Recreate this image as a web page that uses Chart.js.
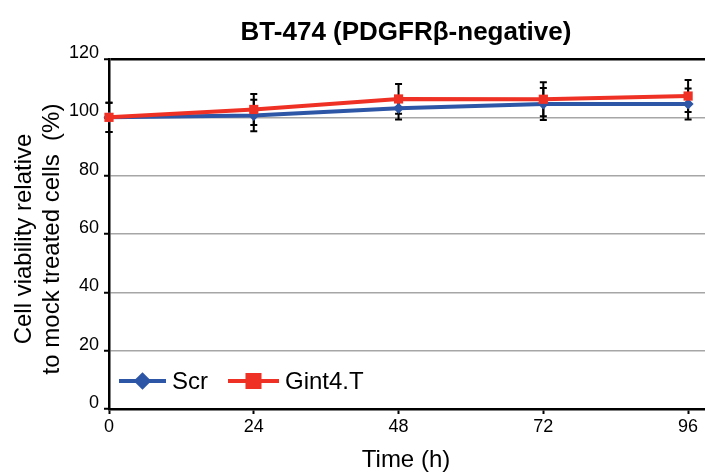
<!DOCTYPE html>
<html>
<head>
<meta charset="utf-8">
<script src="https://cdn.jsdelivr.net/npm/chart.js@4"></script>
<style>
  body { margin: 0; background: #fff; }
  #wrap { width: 705px; height: 473px; position: relative; }
</style>
</head>
<body>
<div id="wrap"><canvas id="mychart"></canvas></div>
<script>
// -------- data --------
const hours = [0, 24, 48, 72, 96];
const scrMean = [100, 100.6, 103.1, 104.6, 104.6];
const scrErr = [5.0, 5.4, 3.8, 5.5, 5.3];
const gintMean = [100, 102.7, 106.3, 106.2, 107.3];
const gintErr = [5.0, 5.3, 5.1, 5.8, 5.5];

const FONT = '"Liberation Sans", Arial, sans-serif';
const BLUE = '#2E56A6';
const RED = '#EE3124';

// error bars go under the lines and markers
const errorBars = {
  id: 'errorBars',
  beforeDatasetsDraw(chart) {
    const ctx = chart.ctx;
    const y = chart.scales.y;
    ctx.save();
    ctx.strokeStyle = '#000';
    ctx.lineWidth = 2;
    chart.data.datasets.forEach((ds, i) => {
      const meta = chart.getDatasetMeta(i);
      meta.data.forEach((pt, j) => {
        const v = ds.data[j].y, e = ds.errors[j];
        const top = y.getPixelForValue(v + e);
        const bot = y.getPixelForValue(v - e);
        ctx.beginPath();
        ctx.moveTo(pt.x, top); ctx.lineTo(pt.x, bot);
        ctx.moveTo(pt.x - 3.5, top); ctx.lineTo(pt.x + 3.5, top);
        ctx.moveTo(pt.x - 3.5, bot); ctx.lineTo(pt.x + 3.5, bot);
        ctx.stroke();
      });
    });
    ctx.restore();
  }
};

// titles + in-plot legend
const extras = {
  id: 'extras',
  afterDraw(chart) {
    const ctx = chart.ctx;
    ctx.save();
    ctx.fillStyle = '#000';
    ctx.textAlign = 'center';
    ctx.textBaseline = 'alphabetic';
    ctx.font = 'bold 26px ' + FONT;
    ctx.fillText('BT-474 (PDGFRβ-negative)', 406, 40);

    ctx.font = '24px ' + FONT;
    ctx.textBaseline = 'middle';
    ctx.fillText('Time (h)', 406, 460);

    ctx.save();
    ctx.translate(24, 239);
    ctx.rotate(-Math.PI / 2);
    ctx.fillText('Cell viability relative', 0, 0);
    ctx.fillText('to mock treated cells  (%)', 0, 28);
    ctx.restore();

    // legend
    const items = [
      {label: 'Scr', color: BLUE, style: 'rectRot', r: 6, x0: 119, x1: 166},
      {label: 'Gint4.T', color: RED, style: 'rect', r: 8.5, x0: 228, x1: 279}
    ];
    const ly = 381;
    ctx.textAlign = 'left';
    items.forEach(it => {
      ctx.strokeStyle = it.color;
      ctx.lineWidth = 4;
      ctx.beginPath();
      ctx.moveTo(it.x0, ly); ctx.lineTo(it.x1, ly);
      ctx.stroke();
      Chart.helpers.drawPoint(ctx, {pointStyle: it.style, radius: it.r, borderWidth: 1, rotation: 0},
        (it.x0 + it.x1) / 2, ly);
      ctx.fillStyle = it.color;
      ctx.fill();
      ctx.fillStyle = '#000';
      ctx.fillText(it.label, it.x1 + 6, ly + 1);
    });
    ctx.restore();
  }
};

const mychart = document.getElementById('mychart');
const chart = new Chart(mychart, {
  type: 'line',
  data: {
    datasets: [
      {
        label: 'Gint4.T',
        data: hours.map((h, i) => ({x: h, y: gintMean[i]})),
        errors: gintErr,
        borderColor: RED,
        backgroundColor: RED,
        borderWidth: 4,
        pointStyle: 'rect',
        pointRadius: 6.5,
        pointBorderWidth: 0,
        order: 0,
        clip: false
      },
      {
        label: 'Scr',
        data: hours.map((h, i) => ({x: h, y: scrMean[i]})),
        errors: scrErr,
        borderColor: BLUE,
        backgroundColor: BLUE,
        borderWidth: 4,
        pointStyle: 'rectRot',
        pointRadius: 5.5,
        pointBorderWidth: 0,
        order: 1,
        clip: false
      }
    ]
  },
  options: {
    responsive: true,
    maintainAspectRatio: false,
    animation: false,
    layout: { autoPadding: false, padding: { top: 59, right: 0, left: 0, bottom: 0 } },
    plugins: {
      legend: { display: false },
      title: { display: false },
      tooltip: { enabled: false }
    },
    elements: { line: { tension: 0 } },
    scales: {
      x: {
        type: 'linear',
        min: 0,
        max: 98.8,
        afterBuildTicks: scale => { scale.ticks = hours.map(v => ({value: v})); },
        afterFit: scale => {
          scale.height = 64;
          scale.paddingLeft = 0;
          scale.paddingRight = 0;
        },
        grid: { drawOnChartArea: false, drawTicks: true, tickLength: 5, tickColor: '#000', tickWidth: 2 },
        border: { color: '#000', width: 2.5 },
        ticks: { color: '#000', font: { family: FONT, size: 18 }, padding: 2, maxRotation: 0 }
      },
      y: {
        min: 0,
        max: 120,
        afterFit: scale => {
          scale.width = 109;
          scale.paddingTop = 0;
          scale.paddingBottom = 0;
        },
        ticks: { stepSize: 20, color: '#000', font: { family: FONT, size: 18 }, padding: 5, labelOffset: -6 },
        grid: {
          color: c => c.tick.value === 120 ? '#000' : '#a6a6a6',
          lineWidth: c => c.tick.value === 120 ? 2.5 : 1.5,
          tickLength: 5,
          tickColor: '#000',
          tickWidth: 2
        },
        border: { color: '#000', width: 2.5 }
      }
    }
  },
  plugins: [errorBars, extras]
});
</script>
</body>
</html>
